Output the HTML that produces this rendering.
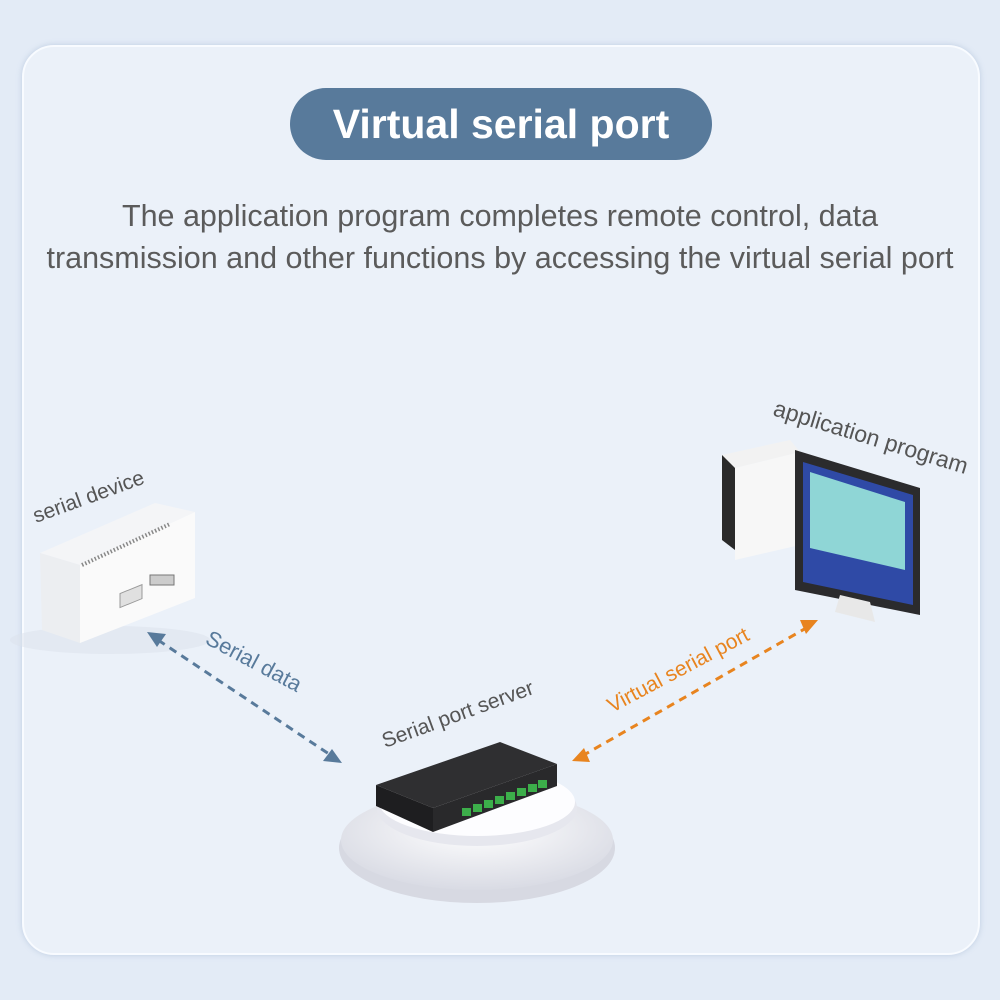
<!DOCTYPE html>
<html><head><meta charset="utf-8"><style>
html,body{margin:0;padding:0}
body{width:1000px;height:1000px;background:#e3ebf6;position:relative;overflow:hidden;font-family:"Liberation Sans",sans-serif}
.card{position:absolute;left:22px;top:45px;width:954px;height:906px;border-radius:32px;background:#ebf1f9;border:2px solid #f8fbff;box-shadow:0 0 6px rgba(120,150,190,.35)}
.pill{position:absolute;left:290px;top:88px;width:422px;height:72px;border-radius:36px;background:#587a9b;color:#fff;font-weight:bold;font-size:41px;text-align:center;line-height:72px}
.sub{position:absolute;left:0;width:1000px;text-align:center;color:#5b5b5b;font-size:30.5px;line-height:42px;top:195px;white-space:nowrap}
svg{position:absolute;left:0;top:0}
</style></head><body>
<div class="card"></div>
<div class="pill">Virtual serial port</div>
<div class="sub">The application program completes remote control, data<br>transmission and other functions by accessing the virtual serial port</div>
<svg width="1000" height="1000" viewBox="0 0 1000 1000">
<defs>
<radialGradient id="pg" cx="50%" cy="40%" r="60%"><stop offset="0" stop-color="#ffffff"/><stop offset="1" stop-color="#d9dbe4"/></radialGradient>
</defs>
<!-- serial device -->
<ellipse cx="110" cy="640" rx="100" ry="14" fill="#dbe2ec" opacity=".5"/>
<polygon points="40,553 155,503 195,512 80,565" fill="#f4f5f7"/>
<polygon points="40,553 80,565 80,643 42,630" fill="#eceef1"/>
<polygon points="80,565 195,512 195,598 80,643" fill="#fafafa"/>
<line x1="82" y1="565" x2="170" y2="524" stroke="#888" stroke-width="4" stroke-dasharray="1.5 2"/>
<rect x="120" y="590" width="22" height="14" fill="#e0e0e0" stroke="#999" transform="skewY(-22) translate(0,52)"/>
<rect x="150" y="575" width="24" height="10" fill="#ccc" stroke="#777"/>
<!-- text labels rotated -->
<text x="36" y="523" font-size="21" fill="#555" transform="rotate(-20 36 523)">serial device</text>
<text x="204" y="643" font-size="22" fill="#587a9b" transform="rotate(28 204 643)">Serial data</text>
<text x="385" y="748" font-size="21" fill="#555" transform="rotate(-20 385 748)">Serial port server</text>
<text x="612" y="713" font-size="21" fill="#e8841f" transform="rotate(-28 612 713)">Virtual serial port</text>
<text x="772" y="415" font-size="23" fill="#555" transform="rotate(17 772 415)">application program</text>
<!-- arrows -->
<line x1="158" y1="640" x2="335" y2="758" stroke="#587a9b" stroke-width="3" stroke-dasharray="8 6"/>
<polygon points="147,632 166,634 157,647" fill="#587a9b"/>
<polygon points="342,763 323,761 332,749" fill="#587a9b"/>
<line x1="582" y1="756" x2="808" y2="627" stroke="#e8841f" stroke-width="3" stroke-dasharray="8 6"/>
<polygon points="572,761 584,748 590,762" fill="#e8841f"/>
<polygon points="818,620 806,634 800,620" fill="#e8841f"/>
<!-- pedestal -->
<ellipse cx="477" cy="848" rx="138" ry="55" fill="#d7d9e2"/>
<ellipse cx="477" cy="840" rx="136" ry="50" fill="url(#pg)"/>
<ellipse cx="477" cy="808" rx="100" ry="38" fill="#e6e7ee"/>
<ellipse cx="477" cy="802" rx="98" ry="34" fill="#fdfdff"/>
<!-- server -->
<polygon points="376,785 500,742 557,764 433,808" fill="#2f2f31"/>
<polygon points="376,785 433,808 433,832 376,806" fill="#1e1e20"/>
<polygon points="433,808 557,764 557,786 433,832" fill="#29292b"/>
<g fill="#3cae4a">
<rect x="462" y="808" width="9" height="8"/><rect x="473" y="804" width="9" height="8"/><rect x="484" y="800" width="9" height="8"/><rect x="495" y="796" width="9" height="8"/><rect x="506" y="792" width="9" height="8"/><rect x="517" y="788" width="9" height="8"/><rect x="528" y="784" width="9" height="8"/><rect x="538" y="780" width="9" height="8"/>
</g>
<!-- printer -->
<polygon points="722,455 790,440 800,452 735,468" fill="#f2f2f2"/>
<polygon points="722,455 735,468 735,550 722,540" fill="#2a2a2a"/>
<polygon points="735,468 800,452 800,545 735,560" fill="#f7f7f7"/>
<!-- monitor -->
<polygon points="795,450 920,488 920,615 795,590" fill="#2b2b2d"/>
<polygon points="803,462 913,495 913,605 803,582" fill="#2f4aa6"/>
<polygon points="810,472 905,502 905,570 810,548" fill="#8fd6d6"/>
<polygon points="840,595 870,602 875,622 835,612" fill="#e8e8e8"/>
</svg>
</body></html>
